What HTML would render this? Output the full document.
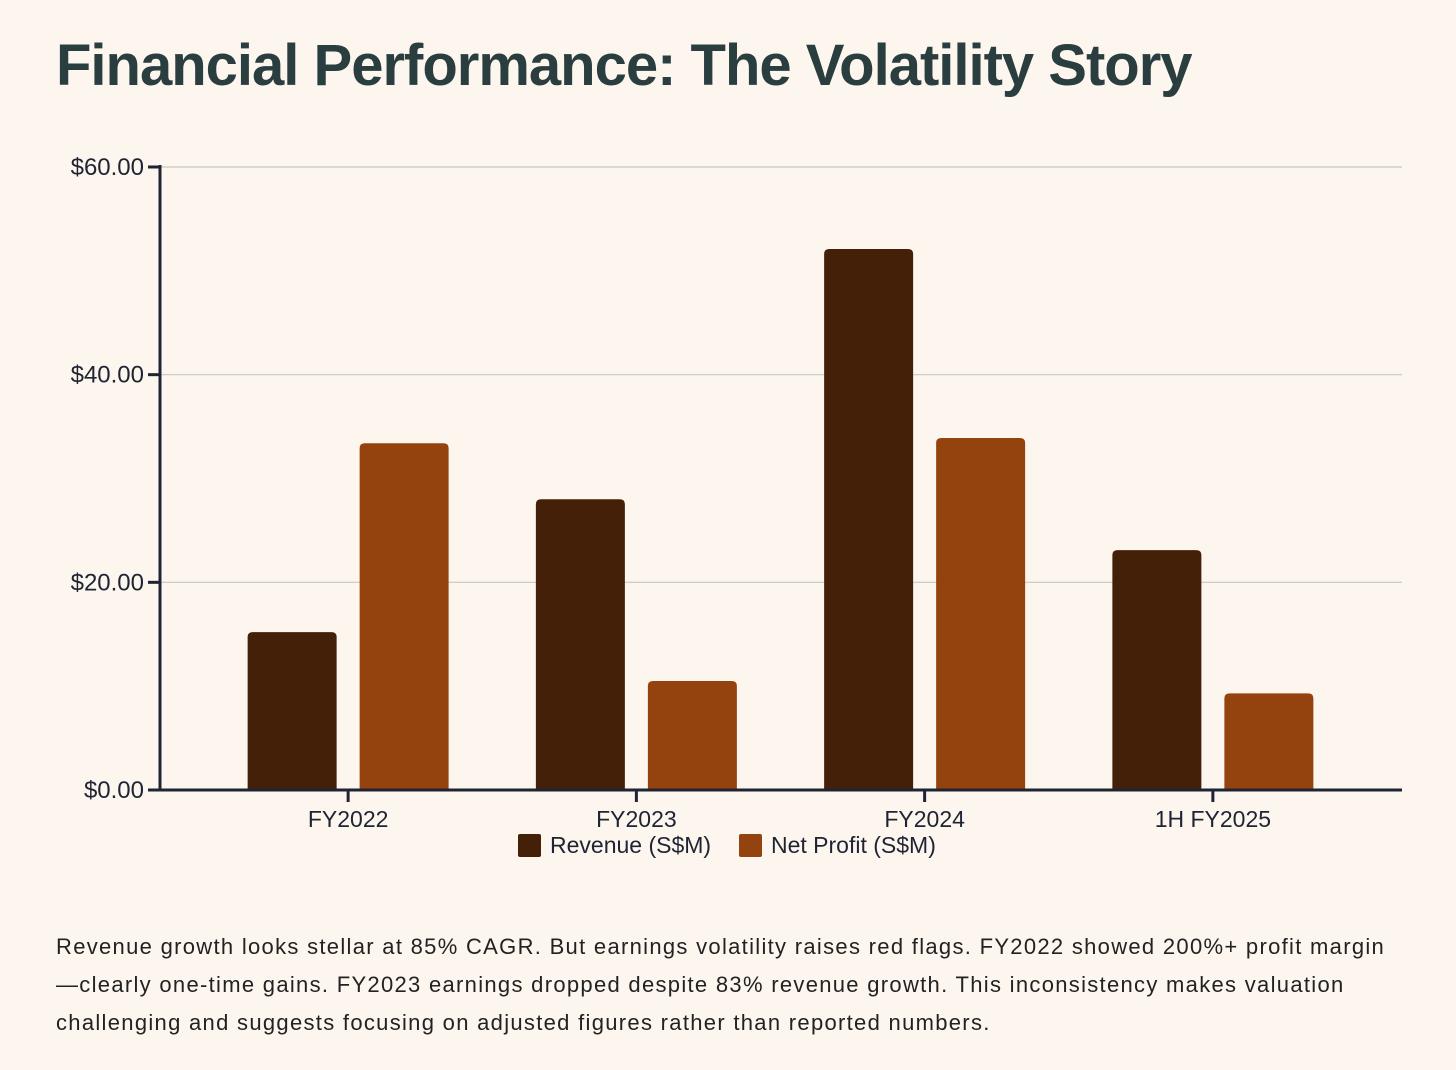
<!DOCTYPE html>
<html><head><meta charset="utf-8"><style>
body{margin:0;width:1456px;height:1070px;background:#fdf6ee;font-family:"Liberation Sans",sans-serif;overflow:hidden}
h1{position:absolute;left:56px;top:32px;margin:0;font-size:58px;font-weight:bold;color:#2a3d3f;letter-spacing:-1px}
p{position:absolute;left:56px;top:928px;width:1400px;margin:0;font-size:22px;line-height:38px;color:#222;white-space:nowrap;letter-spacing:1.3px}
svg{position:absolute;left:0;top:0}
</style></head><body>
<h1>Financial Performance: The Volatility Story</h1>
<svg id="chart" width="1456" height="900"></svg>
<p>Revenue growth looks stellar at 85% CAGR. But earnings volatility raises red flags. FY2022 showed 200%+ profit margin<br>—clearly one-time gains. FY2023 earnings dropped despite 83% revenue growth. This inconsistency makes valuation<br>challenging and suggests focusing on adjusted figures rather than reported numbers.</p>
<script>
const categories=["FY2022","FY2023","FY2024","1H FY2025"];
const revenue=[15.2,28.0,52.1,23.1];
const profit=[33.4,10.5,33.9,9.3];
const yTicks=[0,20,40,60];
const yTickLabels=["$0.00","$20.00","$40.00","$60.00"];
const seriesNames=["Revenue (S$M)","Net Profit (S$M)"];
const colors=["#452008","#95430e"];
const svg=document.getElementById('chart');const NS="http://www.w3.org/2000/svg";
const X0=160,X1=1402,Y0=790,Y1=167;
const BX0=204,BX1=1357;
const y=v=>Y0-(v/60)*(Y0-Y1);
const band=(BX1-BX0)/categories.length;
const cx=i=>BX0+band*(i+0.5);
function mk(t,a,txt){const e=document.createElementNS(NS,t);for(const k in a)e.setAttribute(k,a[k]);if(txt!=null)e.textContent=txt;svg.appendChild(e);return e;}
yTicks.forEach((v,i)=>{
 if(v>0){const g=mk('line',{x1:X0,x2:X1,y1:y(v),y2:y(v),stroke:'#c8c8c0','stroke-width':1.2});
 
 }
 mk('line',{x1:X0-12,x2:X0,y1:y(v),y2:y(v),stroke:'#1e2433','stroke-width':3});
 const t=mk('text',{x:X0-16,y:y(v)+8,'text-anchor':'end','font-size':24,fill:'#1e2433'},yTickLabels[i]);
 
 
});
const bw=89,gap=23;
categories.forEach((c,i)=>{
 [revenue,profit].forEach((s,j)=>{
  const x=j==0?cx(i)-gap/2-bw:cx(i)+gap/2;
  const r=mk('path',{d:`M${x},${Y0}V${y(s[i])+5}q0,-5 5,-5h${bw-10}q5,0 5,5V${Y0}Z`,fill:colors[j]});
  
  
 });
 mk('line',{x1:cx(i),x2:cx(i),y1:Y0,y2:Y0+12,stroke:'#1e2433','stroke-width':3});
 const t=mk('text',{x:cx(i),y:Y0+37,'text-anchor':'middle','font-size':23,fill:'#1e2433'},c);
 
 
});
mk('line',{x1:X0,x2:X0,y1:Y1-2,y2:Y0+1,stroke:'#1e2433','stroke-width':3});
mk('line',{x1:X0,x2:X1,y1:Y0,y2:Y0,stroke:'#1e2433','stroke-width':3});
const lx=[518,739];
seriesNames.forEach((n,j)=>{
 const r=mk('rect',{x:lx[j],y:834,width:23,height:23,rx:2,fill:colors[j]});
 
 
 const t=mk('text',{x:lx[j]+32,y:853,'font-size':23,fill:'#1e2433'},n);
 
 
});
</script>
</body></html>
